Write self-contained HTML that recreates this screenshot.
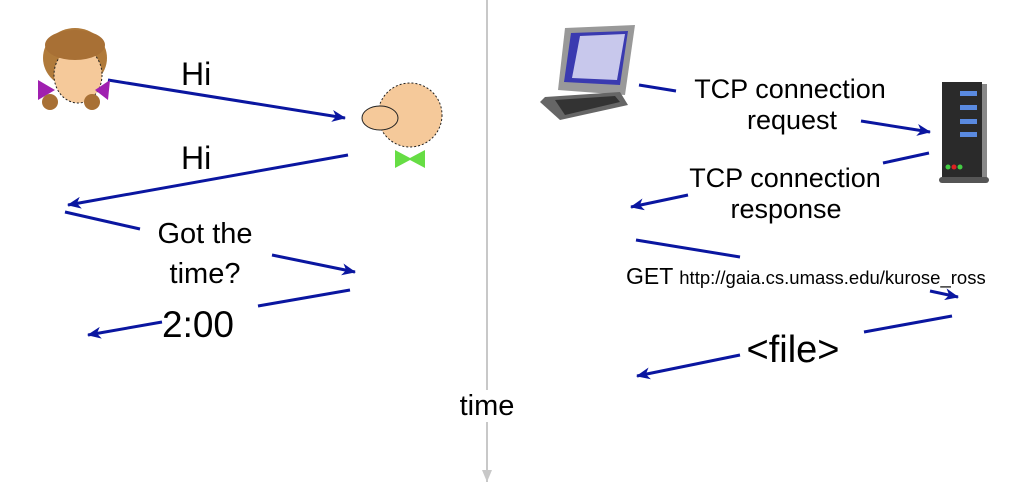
<!DOCTYPE html>
<html><head><meta charset="utf-8"><style>
html,body{margin:0;padding:0;background:#fff;}
svg{display:block;font-family:"Liberation Sans",sans-serif;}
</style></head><body>
<svg width="1030" height="500" viewBox="0 0 1030 500" xmlns="http://www.w3.org/2000/svg">
<defs>
<marker id="a" markerWidth="14" markerHeight="12" refX="13" refY="6" orient="auto" markerUnits="userSpaceOnUse"><path d="M0,0 L14,6 L0,12 L4,6 z" fill="#0a16a0"/></marker>
</defs>
<!-- vertical time line -->
<line x1="487" y1="0" x2="487" y2="482" stroke="#c8c8c8" stroke-width="2"/>
<path d="M482,470 L487,482 L492,470" fill="#c8c8c8"/>
<rect x="450" y="390" width="75" height="32" fill="#fff"/>
<text x="487" y="415" font-size="29" text-anchor="middle" fill="#000">time</text>

<g stroke="#0a16a0" stroke-width="3" fill="none">
<line x1="108" y1="80" x2="345" y2="118" marker-end="url(#a)"/>
<line x1="348" y1="155" x2="68" y2="205" marker-end="url(#a)"/>
<line x1="65" y1="212" x2="140" y2="229"/>
<line x1="272" y1="255" x2="355" y2="272" marker-end="url(#a)"/>
<line x1="350" y1="290" x2="258" y2="306"/>
<line x1="162" y1="322" x2="88" y2="335" marker-end="url(#a)"/>

<line x1="639" y1="85" x2="676" y2="91"/>
<line x1="861" y1="121" x2="930" y2="132" marker-end="url(#a)"/>
<line x1="929" y1="153" x2="883" y2="163"/>
<line x1="688" y1="195" x2="631" y2="207" marker-end="url(#a)"/>
<line x1="636" y1="240" x2="740" y2="257"/>
<line x1="930" y1="291" x2="958" y2="297" marker-end="url(#a)"/>
<line x1="952" y1="316" x2="864" y2="332"/>
<line x1="740" y1="355" x2="637" y2="376" marker-end="url(#a)"/>
</g>

<g fill="#000">
<text x="181" y="85" font-size="32">Hi</text>
<text x="181" y="169" font-size="32">Hi</text>
<text x="205" y="243" font-size="29" text-anchor="middle">Got the</text>
<text x="205" y="283" font-size="29" text-anchor="middle">time?</text>
<text x="162" y="337" font-size="37">2:00</text>
<text x="790" y="98" font-size="27" text-anchor="middle">TCP connection</text>
<text x="792" y="129" font-size="27" text-anchor="middle">request</text>
<text x="785" y="187" font-size="27" text-anchor="middle">TCP connection</text>
<text x="786" y="218" font-size="27" text-anchor="middle">response</text>
<text x="626" y="284" font-size="23">GET <tspan font-size="18.5">http://gaia.cs.umass.edu/kurose_ross</tspan></text>
<text x="793" y="362" font-size="38" text-anchor="middle">&lt;file&gt;</text>
</g>

<!-- girl -->
<g>
<ellipse cx="75" cy="58" rx="32" ry="30" fill="#b07a3a"/>
<ellipse cx="78" cy="75" rx="24" ry="28" fill="#f5c99a" stroke="#222" stroke-dasharray="2 2"/>
<ellipse cx="75" cy="45" rx="30" ry="15" fill="#a87035"/>
<path d="M38,80 L55,90 L38,100 z M110,80 L95,90 L108,100 z" fill="#a020b0"/>
<ellipse cx="50" cy="102" rx="8" ry="8" fill="#a87035"/>
<ellipse cx="92" cy="102" rx="8" ry="8" fill="#a87035"/>
</g>
<!-- man -->
<g>
<ellipse cx="410" cy="115" rx="32" ry="32" fill="#f5c99a" stroke="#222" stroke-dasharray="2 2"/>
<ellipse cx="380" cy="118" rx="18" ry="12" fill="#f5c99a" stroke="#222"/>
<path d="M395,150 L410,158 L425,150 L425,168 L410,160 L395,168 z" fill="#66dd44"/>
</g>
<!-- computer -->
<g>
<path d="M565,28 L635,25 L625,95 L558,90 z" fill="#999"/>
<path d="M571,33 L628,31 L620,85 L564,82 z" fill="#3a3ab0"/>
<path d="M580,36 L625,34 L617,80 L572,78 z" fill="#c8c8ec"/>
<path d="M545,97 L620,92 L628,105 L560,120 L540,102 z" fill="#666"/>
<path d="M555,100 L615,96 L620,102 L565,115 z" fill="#333"/>
</g>
<!-- server -->
<g>
<rect x="942" y="82" width="40" height="98" fill="#2a2a2a"/>
<rect x="982" y="84" width="5" height="96" fill="#888"/>
<rect x="960" y="91" width="17" height="5" fill="#5a8ae0"/>
<rect x="960" y="105" width="17" height="5" fill="#5a8ae0"/>
<rect x="960" y="119" width="17" height="5" fill="#5a8ae0"/>
<rect x="960" y="132" width="17" height="5" fill="#5a8ae0"/>
<circle cx="948" cy="167" r="2.5" fill="#4c4"/><circle cx="954" cy="167" r="2.5" fill="#d22"/><circle cx="960" cy="167" r="2.5" fill="#4c4"/>
<rect x="939" y="177" width="50" height="6" rx="3" fill="#555"/>
</g>
</svg>
</body></html>
